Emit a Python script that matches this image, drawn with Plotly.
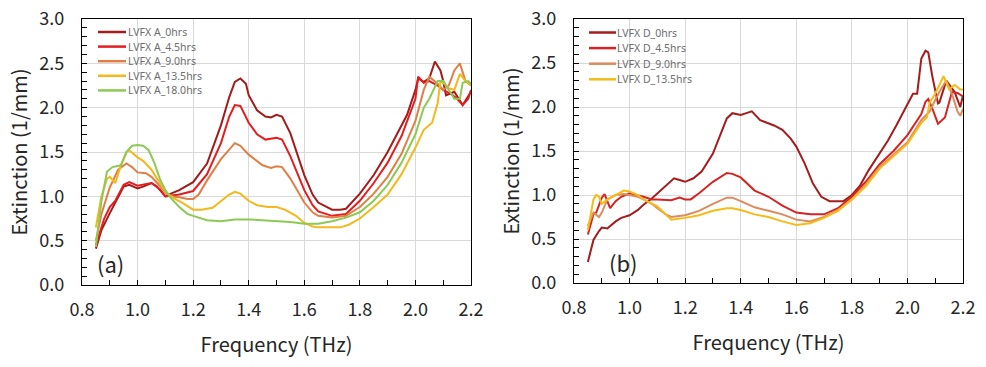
import plotly.graph_objects as go

# ---------------- Panel (a) data ----------------
a0_f = [0.85, 0.87, 0.9, 0.93, 0.95, 0.97, 1.0, 1.02, 1.05, 1.07, 1.1, 1.12, 1.15, 1.2, 1.25, 1.3, 1.33, 1.35, 1.37, 1.39, 1.4, 1.43, 1.46, 1.48, 1.5, 1.52, 1.55, 1.6, 1.63, 1.65, 1.7, 1.73, 1.75, 1.8, 1.85, 1.9, 1.95, 1.97, 2.0, 2.01, 2.03, 2.05, 2.07, 2.09, 2.1, 2.11, 2.14, 2.17, 2.2]
a0_v = [0.41, 0.62, 0.81, 1.0, 1.11, 1.13, 1.09, 1.11, 1.15, 1.11, 1.0, 1.03, 1.07, 1.16, 1.37, 1.8, 2.12, 2.29, 2.33, 2.27, 2.14, 1.97, 1.9, 1.89, 1.92, 1.9, 1.71, 1.24, 1.02, 0.93, 0.85, 0.85, 0.86, 1.03, 1.24, 1.5, 1.79, 1.92, 2.2, 2.33, 2.29, 2.33, 2.52, 2.42, 2.3, 2.14, 2.18, 2.03, 2.18]

a45_f = [0.85, 0.88, 0.9, 0.92, 0.95, 0.97, 1.0, 1.02, 1.05, 1.08, 1.1, 1.15, 1.2, 1.25, 1.3, 1.33, 1.35, 1.37, 1.4, 1.43, 1.46, 1.5, 1.52, 1.55, 1.6, 1.63, 1.65, 1.7, 1.75, 1.8, 1.85, 1.9, 1.95, 2.0, 2.01, 2.03, 2.05, 2.08, 2.1, 2.13, 2.15, 2.17, 2.19, 2.2]
a45_v = [0.45, 0.75, 0.88, 0.95, 1.13, 1.16, 1.12, 1.13, 1.15, 1.08, 1.0, 1.02, 1.06, 1.25, 1.6, 1.9, 2.03, 2.02, 1.83, 1.7, 1.64, 1.66, 1.64, 1.45, 1.07, 0.9, 0.83, 0.78, 0.8, 0.95, 1.15, 1.38, 1.68, 2.1, 2.35, 2.28, 2.3, 2.25, 2.2, 2.15, 2.1, 2.03, 2.1, 2.2]

a90_f = [0.85, 0.87, 0.9, 0.93, 0.96, 0.98, 1.0, 1.03, 1.05, 1.08, 1.1, 1.12, 1.15, 1.18, 1.2, 1.22, 1.25, 1.3, 1.35, 1.37, 1.4, 1.45, 1.48, 1.5, 1.52, 1.55, 1.6, 1.63, 1.65, 1.7, 1.75, 1.8, 1.85, 1.9, 1.95, 2.0, 2.03, 2.05, 2.08, 2.1, 2.12, 2.14, 2.16, 2.18, 2.2]
a90_v = [0.5, 0.8, 1.1, 1.3, 1.37, 1.33, 1.27, 1.26, 1.22, 1.12, 1.04, 1.0, 0.99, 0.97, 0.97, 1.02, 1.18, 1.42, 1.6, 1.57, 1.47, 1.35, 1.32, 1.34, 1.33, 1.2, 0.93, 0.82, 0.78, 0.76, 0.78, 0.88, 1.03, 1.22, 1.48, 1.85, 2.2, 2.35, 2.27, 2.2, 2.25, 2.42, 2.5, 2.3, 2.25]

a135_f = [0.85, 0.87, 0.89, 0.9, 0.92, 0.94, 0.96, 0.97, 1.0, 1.02, 1.05, 1.08, 1.1, 1.13, 1.16, 1.2, 1.23, 1.27, 1.3, 1.33, 1.35, 1.37, 1.4, 1.43, 1.47, 1.5, 1.53, 1.57, 1.6, 1.63, 1.65, 1.7, 1.73, 1.76, 1.8, 1.85, 1.9, 1.95, 2.0, 2.03, 2.05, 2.06, 2.08, 2.09, 2.1, 2.12, 2.14, 2.16, 2.18, 2.2]
a135_v = [0.65, 1.0, 1.2, 1.22, 1.15, 1.35, 1.5, 1.52, 1.44, 1.4, 1.3, 1.15, 1.05, 0.98, 0.93, 0.85, 0.85, 0.87, 0.95, 1.02, 1.05, 1.03, 0.95, 0.9, 0.88, 0.88, 0.85, 0.78, 0.7, 0.66, 0.65, 0.65, 0.65, 0.68, 0.75, 0.88, 1.02, 1.25, 1.55, 1.75, 1.8, 1.83, 2.05, 2.3, 2.28, 2.22, 2.2, 2.38, 2.3, 2.25]

a180_f = [0.85, 0.87, 0.89, 0.91, 0.94, 0.96, 0.98, 1.0, 1.02, 1.04, 1.06, 1.08, 1.1, 1.12, 1.15, 1.18, 1.2, 1.25, 1.3, 1.35, 1.4, 1.45, 1.5, 1.55, 1.6, 1.65, 1.7, 1.75, 1.8, 1.85, 1.9, 1.95, 2.0, 2.03, 2.05, 2.08, 2.1, 2.12, 2.14, 2.16, 2.17, 2.19, 2.2]
a180_v = [0.43, 0.95, 1.28, 1.33, 1.35, 1.5, 1.57, 1.58, 1.57, 1.52, 1.38, 1.2, 1.07, 0.98, 0.88, 0.8, 0.78, 0.73, 0.72, 0.74, 0.74, 0.73, 0.72, 0.71, 0.69, 0.69, 0.72, 0.76, 0.82, 0.95, 1.13, 1.38, 1.7, 2.0, 2.1, 2.3, 2.3, 2.2, 2.1, 2.1, 2.28, 2.3, 2.27]

# ---------------- Panel (b) data ----------------
d0_f = [0.85, 0.87, 0.89, 0.9, 0.92, 0.95, 0.97, 1.0, 1.03, 1.05, 1.08, 1.1, 1.13, 1.16, 1.18, 1.2, 1.23, 1.26, 1.3, 1.33, 1.35, 1.37, 1.4, 1.42, 1.44, 1.47, 1.5, 1.52, 1.55, 1.58, 1.6, 1.63, 1.66, 1.69, 1.72, 1.75, 1.77, 1.8, 1.83, 1.86, 1.9, 1.93, 1.96, 2.0, 2.02, 2.035, 2.05, 2.065, 2.075, 2.09, 2.11, 2.115, 2.14, 2.17, 2.19, 2.2]
d0_v = [0.24, 0.49, 0.59, 0.63, 0.62, 0.7, 0.74, 0.77, 0.83, 0.89, 0.96, 1.02, 1.11, 1.19, 1.17, 1.15, 1.19, 1.27, 1.47, 1.72, 1.87, 1.93, 1.91, 1.93, 1.95, 1.85, 1.81, 1.79, 1.74, 1.64, 1.55, 1.36, 1.13, 0.98, 0.93, 0.93, 0.93, 1.0, 1.11, 1.28, 1.47, 1.62, 1.79, 2.02, 2.15, 2.15, 2.55, 2.64, 2.62, 2.34, 2.04, 2.05, 2.3, 2.17, 2.0, 2.13]

d45_f = [0.85, 0.87, 0.88, 0.9, 0.91, 0.93, 0.95, 0.97, 1.0, 1.03, 1.05, 1.08, 1.1, 1.15, 1.18, 1.2, 1.22, 1.25, 1.3, 1.35, 1.37, 1.4, 1.45, 1.5, 1.55, 1.6, 1.65, 1.7, 1.75, 1.8, 1.85, 1.9, 1.95, 2.0, 2.03, 2.05, 2.065, 2.075, 2.09, 2.11, 2.135, 2.16, 2.18, 2.2]
d45_v = [0.55, 0.78, 0.8, 0.97, 1.01, 0.85, 0.93, 0.98, 1.02, 1.0, 0.98, 0.95, 0.95, 0.94, 0.97, 0.95, 0.95, 1.02, 1.15, 1.25, 1.24, 1.2, 1.05, 0.98, 0.88, 0.8, 0.78, 0.78, 0.85, 0.98, 1.15, 1.35, 1.5, 1.68, 1.83, 1.92, 2.06, 2.09, 1.98, 1.81, 1.88, 2.17, 2.16, 2.12]

d90_f = [0.85, 0.87, 0.89, 0.9, 0.92, 0.95, 0.98, 1.0, 1.03, 1.05, 1.08, 1.1, 1.13, 1.15, 1.2, 1.25, 1.3, 1.35, 1.37, 1.4, 1.45, 1.5, 1.55, 1.6, 1.65, 1.7, 1.75, 1.8, 1.85, 1.9, 1.95, 2.0, 2.05, 2.08, 2.1, 2.12, 2.14, 2.16, 2.18, 2.19, 2.2]
d90_v = [0.65, 0.8, 0.75, 0.8, 0.95, 1.0, 1.01, 1.0, 0.98, 0.95, 0.9, 0.85, 0.78, 0.75, 0.77, 0.82, 0.9, 0.97, 0.97, 0.93, 0.86, 0.82, 0.78, 0.72, 0.7, 0.75, 0.83, 0.95, 1.12, 1.32, 1.46, 1.6, 1.85, 1.95, 2.08, 2.2, 2.3, 2.15, 1.95, 1.9, 1.98]

d135_f = [0.85, 0.87, 0.88, 0.89, 0.9, 0.92, 0.95, 0.98, 1.0, 1.03, 1.05, 1.08, 1.1, 1.13, 1.15, 1.2, 1.25, 1.3, 1.35, 1.37, 1.4, 1.45, 1.5, 1.55, 1.6, 1.65, 1.7, 1.75, 1.8, 1.85, 1.9, 1.95, 2.0, 2.05, 2.07, 2.08, 2.1, 2.13, 2.15, 2.17, 2.19, 2.2]
d135_v = [0.6, 0.95, 1.0, 0.98, 0.9, 0.95, 1.0, 1.05, 1.04, 1.0, 0.95, 0.9, 0.87, 0.78, 0.72, 0.74, 0.77, 0.82, 0.85, 0.85, 0.83, 0.78, 0.75, 0.7, 0.66, 0.68, 0.74, 0.82, 0.95, 1.1, 1.3, 1.44, 1.58, 1.82, 1.88, 2.05, 2.15, 2.35, 2.2, 2.25, 2.2, 2.2]

names_a = ["LVFX A_0hrs", "LVFX A_4.5hrs", "LVFX A_9.0hrs", "LVFX A_13.5hrs", "LVFX A_18.0hrs"]
names_b = ["LVFX D_0hrs", "LVFX D_4.5hrs", "LVFX D_9.0hrs", "LVFX D_13.5hrs"]
colors_a = ["#A31B1B", "#E41E1E", "#E07F45", "#F4B71C", "#8CC955"]
colors_b = ["#A51C1C", "#D42424", "#DD8A5C", "#F5BC18"]

series_a = [(a0_f, a0_v), (a45_f, a45_v), (a90_f, a90_v), (a135_f, a135_v), (a180_f, a180_v)]
series_b = [(d0_f, d0_v), (d45_f, d45_v), (d90_f, d90_v), (d135_f, d135_v)]

FONT = "Noto Sans CJK JP"
W, H = 986, 367
fig = go.Figure()
for (f, v), n, c in zip(series_a, names_a, colors_a):
    fig.add_trace(go.Scatter(x=f, y=v, name=n, mode="lines", line=dict(color=c, width=2),
                             xaxis="x", yaxis="y", showlegend=False))
for (f, v), n, c in zip(series_b, names_b, colors_b):
    fig.add_trace(go.Scatter(x=f, y=v, name=n, mode="lines", line=dict(color=c, width=2),
                             xaxis="x2", yaxis="y2", showlegend=False))

def xax(domain, anchor):
    return dict(domain=domain, anchor=anchor, range=[0.8, 2.2], dtick=0.2, tick0=0.8,
                tickformat=".1f", showgrid=True, gridcolor="#D9D9D9", gridwidth=1,
                showline=True, linecolor="black", linewidth=1.2, mirror=True,
                ticks="inside", ticklen=5, tickcolor="black", ticklabelstandoff=8,
                ticklabeloverflow="allow",
                minor=dict(dtick=0.1, ticks="inside", ticklen=5, tickcolor="black", showgrid=False),
                zeroline=False, automargin=False,
                tickfont=dict(size=18, color="#262626", family=FONT),
                title=dict(text="Frequency (THz)", font=dict(size=20, color="#262626", family=FONT), standoff=18))

def yax(domain, anchor):
    return dict(domain=domain, anchor=anchor, range=[0, 3.0], dtick=0.5, tick0=0,
                tickformat=".1f", showgrid=True, gridcolor="#D9D9D9", gridwidth=1,
                showline=True, linecolor="black", linewidth=1.2, mirror=True,
                ticks="inside", ticklen=5, tickcolor="black", ticklabelstandoff=13,
                ticklabeloverflow="allow",
                minor=dict(dtick=0.1, ticks="inside", ticklen=5, tickcolor="black", showgrid=False),
                zeroline=False, automargin=False,
                tickfont=dict(size=18, color="#262626", family=FONT),
                title=dict(text="Extinction (1/mm)", font=dict(size=20, color="#262626", family=FONT), standoff=6))

# manual legends (compact row spacing as in the reference)
shapes, annots = [], []
def add_legend(names, colors, x0, x1, xt, y_first, dy):
    for i, (n, c) in enumerate(zip(names, colors)):
        yy = 1 - (y_first + i * dy) / H
        shapes.append(dict(type="line", xref="paper", yref="paper", x0=x0 / W, x1=x1 / W,
                           y0=yy, y1=yy, line=dict(color=c, width=2.5)))
        annots.append(dict(text=n, xref="paper", yref="paper", x=xt / W, y=yy, xanchor="left",
                           yanchor="middle", showarrow=False, borderpad=0,
                           font=dict(size=10.5, color="#6E6E6E", family="Noto Sans")))

add_legend(names_a, colors_a, 98, 126, 127, 32, 14.6)
add_legend(names_b, colors_b, 589, 616, 616, 32.5, 15.6)

annots.append(dict(text="(a)", x=110 / W, y=1 - 263 / H, xref="paper", yref="paper", xanchor="center",
                   yanchor="middle", showarrow=False, font=dict(size=22, color="#262626", family=FONT)))
annots.append(dict(text="(b)", x=623 / W, y=1 - 262 / H, xref="paper", yref="paper", xanchor="center",
                   yanchor="middle", showarrow=False, font=dict(size=22, color="#262626", family=FONT)))

fig.update_layout(
    width=W, height=H, margin=dict(l=0, r=0, t=0, b=0),
    paper_bgcolor="white", plot_bgcolor="white",
    font=dict(family=FONT),
    xaxis=xax([82 / W, 471 / W], "y"),
    yaxis=yax([1 - 285 / H, 1 - 19 / H], "x"),
    xaxis2=xax([574 / W, 963 / W], "y2"),
    yaxis2=yax([1 - 283 / H, 1 - 19 / H], "x2"),
    shapes=shapes, annotations=annots,
)

fig.write_html("out.html", config={"displayModeBar": False},
               post_script="document.body.style.margin='0';document.body.style.overflow='hidden';")
